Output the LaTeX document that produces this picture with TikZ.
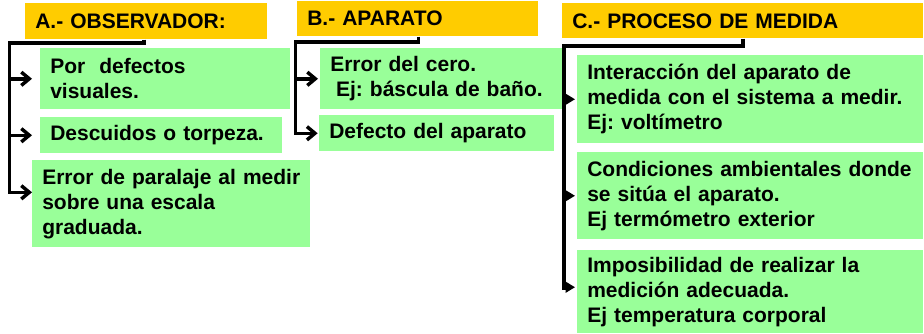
\documentclass[tikz,border=0pt]{standalone}
\usepackage{fontspec}
\setmainfont{Liberation Sans}
\usetikzlibrary{arrows.meta}
\definecolor{hdrOrange}{RGB}{255,204,0}
\definecolor{itmGreen}{RGB}{153,255,153}

\begin{document}
\begin{tikzpicture}[x=0.75pt,y=0.75pt,yscale=-1,xscale=1,
  box/.style={anchor=north west,align=left,inner xsep=7.5pt,inner ysep=0pt,
    font=\fontsize{15.75}{18.75}\selectfont\bfseries\frenchspacing},
  hdr/.style={box,fill=hdrOrange},
  itm/.style={box,fill=itmGreen},
  barb/.style={line width=2.6pt,-{Straight Barb[length=6pt,width=10pt]}},
  trunk/.style={line width=3.2pt},
  tri/.style={line width=1.5pt,-{Triangle[length=7pt,width=8pt]}}]
\useasboundingbox (0,0) rectangle (924,333);

%Shape: Rectangle [A - observador]
\node[hdr,text width=166.5pt,minimum height=27pt] (hA) at (25,3) {A.- OBSERVADOR:};
\node[itm,text width=172.5pt,minimum height=45.75pt] (a1) at (40,48) {Por\ \ defectos\\visuales.};
\node[itm,text width=166.5pt,minimum height=27pt] (a2) at (40,117) {Descuidos o torpeza.};
\node[itm,text width=193.5pt,minimum height=65.25pt] (a3) at (32,160) {Error de paralaje al medir\\sobre una escala\\graduada.};

%Shape: Rectangle [B - aparato]
\node[hdr,text width=165.75pt,minimum height=26.25pt] (hB) at (297,1) {B.- APARATO};
\node[itm,text width=166.5pt,minimum height=45.75pt] (b1) at (320,48) {Error del cero.\\\hspace*{0.28em}Ej: báscula de baño.};
\node[itm,text width=161.25pt,minimum height=27pt] (b2) at (319,115) {Defecto del aparato};

%Shape: Rectangle [C - proceso de medida]
\node[hdr,text width=255.75pt,minimum height=26.25pt] (hC) at (562,3) {C.- PROCESO DE MEDIDA};
\node[itm,text width=244.5pt,minimum height=66pt] (c1) at (577,55) {Interacción del aparato de\\medida con el sistema a medir.\\Ej: voltímetro};
\node[itm,text width=244.5pt,minimum height=65.25pt] (c2) at (577,152) {Condiciones ambientales donde\\se sitúa el aparato.\\Ej termómetro exterior};
\node[itm,text width=244.5pt,minimum height=62.25pt] (c3) at (577,250) {Imposibilidad de realizar la\\medición adecuada.\\Ej temperatura corporal};

%Straight Lines [A]
\coordinate (aCorner) at (9.5,43);
\draw[barb] ([xshift=89.25pt]hA.south west) |- (aCorner) |- ([yshift=-8.6pt]a3.west);
\draw[barb] (a1.west -| aCorner) -- ([xshift=-6pt]a1.west);
\draw[barb] (a2.west -| aCorner) -- ([xshift=-6pt]a2.west);

%Straight Lines [B]
\coordinate (bCorner) at (295.5,42);
\draw[barb] ([xshift=91.1pt]hB.south west) |- (bCorner) |- ([xshift=-1pt]b2.west);
\draw[barb] (b1.west -| bCorner) -- ([xshift=-1.5pt]b1.west);

%Straight Lines [C]
\coordinate (cCorner) at (564,46);
\coordinate (cEnd) at (564,290);
\draw[trunk] ([xshift=135.75pt]hC.south west) |- (cCorner) -- (cEnd);
\draw[tri] (c1.west -| cCorner) -- ([xshift=-1.5pt]c1.west);
\draw[tri] (c2.west -| cCorner) -- ([xshift=-1.5pt]c2.west);
\draw[tri] ([yshift=-3.4pt]c3.west -| cCorner) -- ([xshift=-1.5pt,yshift=-3.4pt]c3.west);

\end{tikzpicture}
\end{document}
